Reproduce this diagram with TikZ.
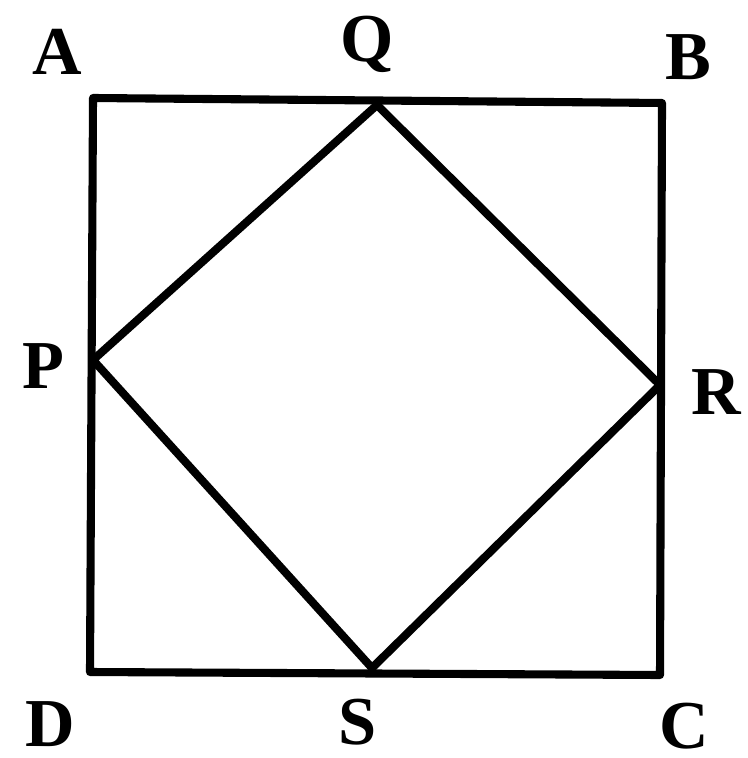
\documentclass[tikz,border=0pt]{standalone}
\usepackage{fontspec}
\setmainfont{Liberation Serif}
\begin{document}
\begin{tikzpicture}[x=0.01cm,y=-0.01cm,
  edge/.style={line width=2.3pt,line cap=round,line join=round},
  lbl/.style={font=\fontsize{19.5}{19.5}\selectfont\bfseries,inner sep=0pt}]
\useasboundingbox (0,0) rectangle (747,758);
\coordinate (A) at (93,98);
\coordinate (B) at (662,103);
\coordinate (C) at (660,675);
\coordinate (D) at (90,672);
\coordinate (Q) at (377,105);
\coordinate (P) at (93,360);
\coordinate (R) at (660,385);
\coordinate (S) at (372,668);
\draw[edge] (A) -- (B) -- (C) -- (D) -- cycle;
\draw[edge] (Q) -- (R) -- (S) -- (P) -- cycle;
\node[lbl] (lA) at (57,52) {A};
\node[lbl] (lQ) at (367,44) {Q};
\node[lbl] (lB) at (688,57) {B};
\node[lbl] (lP) at (43,366) {P};
\node[lbl] (lR) at (716,392) {R};
\node[lbl] (lD) at (50,724) {D};
\node[lbl] (lS) at (358,722) {S};
\node[lbl] (lC) at (684,726) {C};
\end{tikzpicture}
\end{document}
